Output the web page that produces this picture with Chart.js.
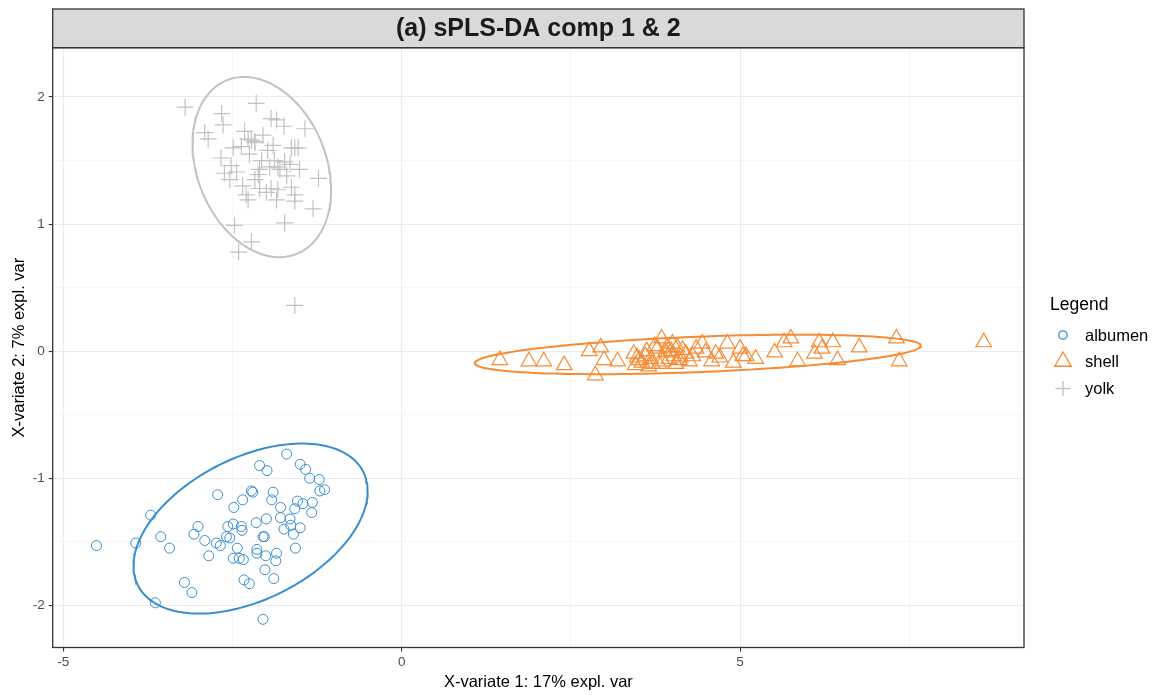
<!DOCTYPE html>
<html>
<head>
<meta charset="utf-8">
<script src="https://cdn.jsdelivr.net/npm/chart.js@4.4.0/dist/chart.umd.min.js"></script>
<style>
  html, body { margin: 0; padding: 0; background: #ffffff; }
  #wrap { width: 1159px; height: 695px; position: relative; }
</style>
</head>
<body>
<div id="wrap"><canvas id="plot" width="1159" height="695"></canvas></div>
<script>
// ---- sample scores on the first two sPLS-DA components ----
const groupNames = ['albumen', 'shell', 'yolk'];

const albumenX = [-4.51,-3.93,-3.71,-3.56,-3.43,-3.64,-3.21,-3.10,-3.01,-3.07,-2.91,-2.85,-2.74,-2.72,-2.68,-2.59,-2.57,-2.54,-2.49,-2.48,-2.43,-2.49,-2.37,-2.36,-2.35,-2.34,-2.40,-2.33,-2.25,-2.22,-2.20,-2.15,-2.14,-2.14,-2.10,-2.05,-2.03,-2.01,-2.02,-2.05,-1.99,-2.00,-1.90,-1.92,-1.89,-1.85,-1.86,-1.79,-1.79,-1.74,-1.70,-1.65,-1.64,-1.60,-1.57,-1.58,-1.54,-1.50,-1.50,-1.46,-1.42,-1.36,-1.32,-1.33,-1.22,-1.21,-1.14];
const albumenY = [-1.53,-1.51,-1.29,-1.46,-1.55,-1.98,-1.82,-1.90,-1.38,-1.44,-1.49,-1.61,-1.51,-1.13,-1.53,-1.46,-1.38,-1.47,-1.36,-1.23,-1.55,-1.63,-1.38,-1.41,-1.17,-1.64,-1.63,-1.80,-1.83,-1.10,-1.11,-1.35,-1.56,-1.59,-0.90,-1.46,-1.46,-1.61,-1.72,-2.11,-0.94,-1.32,-1.11,-1.17,-1.79,-1.59,-1.65,-1.23,-1.31,-1.40,-0.81,-1.32,-1.37,-1.44,-1.55,-1.24,-1.18,-1.39,-0.89,-1.20,-0.93,-1.00,-1.19,-1.27,-1.01,-1.10,-1.09];

const shellX = [1.45,1.88,2.10,2.40,2.77,2.94,2.99,2.86,3.19,3.43,3.51,3.45,3.60,3.70,3.84,3.78,3.90,4.00,3.95,4.07,4.10,4.20,4.30,4.44,4.49,4.64,4.81,5.04,3.80,3.65,5.23,5.51,5.65,5.75,5.85,6.10,6.17,6.21,6.37,6.44,6.76,7.31,7.35,8.60,5.09,3.55,3.62,3.68,3.74,3.86,3.92,4.02,4.05,4.15,4.25,4.35,3.48,4.12,3.98,4.58,4.70,4.90,5.00];
const shellY = [-0.07,-0.08,-0.08,-0.11,0.00,0.03,-0.07,-0.19,-0.08,-0.02,-0.07,-0.11,-0.04,-0.10,0.10,0.02,-0.01,0.06,-0.06,0.03,-0.07,-0.02,-0.04,0.06,-0.01,-0.02,0.06,-0.04,-0.10,-0.12,-0.06,-0.01,0.07,0.10,-0.08,-0.02,0.07,0.02,0.07,-0.07,0.03,0.10,-0.08,0.07,-0.04,-0.09,0.00,-0.06,0.04,-0.08,0.03,-0.04,-0.10,0.01,-0.08,0.02,-0.05,-0.05,0.00,-0.08,-0.05,-0.09,0.02];

const yolkX = [-3.20,-2.66,-2.64,-2.91,-2.86,-2.67,-2.52,-2.44,-2.49,-2.32,-2.27,-2.22,-2.17,-2.15,-2.17,-2.37,-1.93,-1.85,-1.74,-1.43,-1.98,-1.88,-1.83,-1.80,-2.10,-2.12,-2.17,-1.63,-1.58,-1.53,-1.51,-1.23,-1.63,-1.83,-1.93,-1.58,-1.58,-1.31,-1.85,-2.27,-2.30,-1.73,-2.47,-2.22,-2.41,-1.58,-2.54,-2.07,-2.00,-1.73,-2.62,-2.25,-2.05,-1.95,-1.70,-1.90,-2.35,-1.65,-2.10];
const yolkY = [1.92,1.87,1.78,1.72,1.67,1.52,1.46,1.41,1.60,1.73,1.67,1.66,1.65,1.95,1.64,1.61,1.83,1.82,1.77,1.75,1.58,1.50,1.45,1.43,1.43,1.39,1.35,1.60,1.60,1.60,1.43,1.36,1.29,1.27,1.28,1.23,1.18,1.12,1.19,1.19,1.23,1.01,0.99,0.86,0.78,0.36,1.35,1.50,1.25,1.49,1.40,1.55,1.70,1.45,1.38,1.62,1.30,1.47,1.28];

// ---- axis ticks ----
const xMajorTicks = [-5, 0, 5];
const xGridValues = [-5, -2.5, 0, 2.5, 5, 7.5];
const yMajorTicks = [-2, -1, 0, 1, 2];
const yGridValues = [-2, -1.5, -1, -0.5, 0, 0.5, 1, 1.5, 2];

// ---- texts ----
const panelTitle = '(a) sPLS-DA comp 1 & 2';
const xAxisTitle = 'X-variate 1: 17% expl. var';
const yAxisTitle = 'X-variate 2: 7% expl. var';
const legendTitle = 'Legend';

// ---- styling ----
const groupColors = { albumen: '#388ECC', shell: '#F68B33', yolk: '#C2C2C2' };
const groupShapes = { albumen: 'circle', shell: 'triangle', yolk: 'cross' };
const groupRadius = { albumen: 5, shell: 9, yolk: 8.5 };
const legendRadius = { albumen: 4.2, shell: 9.5, yolk: 7.5 };
const FONT = '"Liberation Sans", Arial, Helvetica, sans-serif';

const zip = (xs, ys) => xs.map((x, i) => ({ x: x, y: ys[i] }));

// 95% confidence ellipse computed from the group's own scores
function confidenceEllipse(xs, ys, steps) {
  const n = xs.length;
  const mx = xs.reduce((a, b) => a + b, 0) / n;
  const my = ys.reduce((a, b) => a + b, 0) / n;
  let sxx = 0, syy = 0, sxy = 0;
  for (let i = 0; i < n; i++) {
    const dx = xs[i] - mx, dy = ys[i] - my;
    sxx += dx * dx; syy += dy * dy; sxy += dx * dy;
  }
  sxx /= (n - 1); syy /= (n - 1); sxy /= (n - 1);
  const t = Math.sqrt(5.991464547107979); // sqrt(qchisq(0.95, 2))
  const l11 = Math.sqrt(sxx);
  const l21 = sxy / l11;
  const l22 = Math.sqrt(Math.max(syy - l21 * l21, 0));
  const out = [];
  for (let k = 0; k <= steps; k++) {
    const a = 2 * Math.PI * k / steps;
    out.push({ x: mx + t * l11 * Math.cos(a), y: my + t * (l21 * Math.cos(a) + l22 * Math.sin(a)) });
  }
  return out;
}

const groupData = {
  albumen: zip(albumenX, albumenY),
  shell: zip(shellX, shellY),
  yolk: zip(yolkX, yolkY)
};
const groupCoords = {
  albumen: [albumenX, albumenY],
  shell: [shellX, shellY],
  yolk: [yolkX, yolkY]
};

const datasets = [];
groupNames.forEach(g => {
  datasets.push({
    label: g,
    data: groupData[g],
    pointStyle: groupShapes[g],
    pointRadius: groupRadius[g],
    pointHoverRadius: groupRadius[g],
    pointBorderColor: groupColors[g],
    pointBackgroundColor: 'rgba(0,0,0,0)',
    pointBorderWidth: g === 'albumen' ? 1 : 1.2,
    showLine: false,
    order: 2
  });
});
groupNames.forEach(g => {
  datasets.push({
    label: g + ' ellipse',
    data: confidenceEllipse(groupCoords[g][0], groupCoords[g][1], 160),
    showLine: true,
    borderColor: groupColors[g],
    borderWidth: 2,
    pointRadius: 0,
    pointHoverRadius: 0,
    fill: false,
    tension: 0,
    order: 1
  });
});

const PANEL = { left: 52.7, right: 1024, top: 47.7, bottom: 647.5 };

const decor = {
  id: 'decor',
  afterDraw(chart) {
    const ctx = chart.ctx;
    const area = chart.chartArea;
    ctx.save();
    // panel border
    ctx.strokeStyle = '#333333';
    ctx.lineWidth = 1.3;
    ctx.strokeRect(area.left, area.top, area.right - area.left, area.bottom - area.top);
    // facet strip
    const stripTop = 9;
    ctx.fillStyle = '#D9D9D9';
    ctx.fillRect(area.left, stripTop, area.right - area.left, area.top - stripTop);
    ctx.strokeRect(area.left, stripTop, area.right - area.left, area.top - stripTop);
    ctx.fillStyle = '#1A1A1A';
    ctx.font = 'bold 25px ' + FONT;
    ctx.textAlign = 'center';
    ctx.textBaseline = 'middle';
    ctx.fillText(panelTitle, (area.left + area.right) / 2, (stripTop + area.top) / 2 + 1);
    // axis titles
    ctx.font = '16.5px ' + FONT;
    ctx.fillStyle = '#000000';
    ctx.fillText(xAxisTitle, (area.left + area.right) / 2, 682);
    ctx.save();
    ctx.translate(19, (area.top + area.bottom) / 2);
    ctx.rotate(-Math.PI / 2);
    ctx.fillText(yAxisTitle, 0, 0);
    ctx.restore();
    // legend
    ctx.textAlign = 'left';
    ctx.font = '17.5px ' + FONT;
    ctx.fillText(legendTitle, 1050, 305);
    const rows = [335, 361.5, 388.5];
    ctx.font = '16.5px ' + FONT;
    groupNames.forEach((g, i) => {
      ctx.strokeStyle = groupColors[g];
      ctx.fillStyle = 'rgba(0,0,0,0)';
      Chart.helpers.drawPoint(ctx, {
        pointStyle: groupShapes[g],
        radius: legendRadius[g],
        borderWidth: 1.2,
        rotation: 0
      }, 1063, rows[i]);
      ctx.fillStyle = '#000000';
      ctx.fillText(g, 1085, rows[i] + 1);
    });
    ctx.restore();
  }
};

const isMajor = (list, v) => list.some(m => Math.abs(m - v) < 1e-9);

new Chart(document.getElementById('plot'), {
  type: 'scatter',
  data: { datasets: datasets },
  plugins: [decor],
  options: {
    responsive: false,
    animation: false,
    devicePixelRatio: 1,
    layout: { padding: { left: 0, top: PANEL.top, right: 1159 - PANEL.right, bottom: 0 } },
    plugins: { legend: { display: false }, tooltip: { enabled: false } },
    scales: {
      x: {
        type: 'linear',
        min: -5.157,
        max: 9.195,
        afterFit(scale) { scale.height = 695 - PANEL.bottom; },
        afterBuildTicks(scale) { scale.ticks = xGridValues.map(v => ({ value: v })); },
        border: { display: false },
        grid: {
          color: c => isMajor(xMajorTicks, c.tick.value) ? '#EBEBEB' : '#F2F2F2',
          lineWidth: c => isMajor(xMajorTicks, c.tick.value) ? 1.1 : 0.6,
          tickColor: c => isMajor(xMajorTicks, c.tick.value) ? '#333333' : 'rgba(0,0,0,0)',
          tickWidth: 1.1,
          tickLength: 4
        },
        ticks: {
          autoSkip: false,
          maxRotation: 0,
          padding: 3,
          color: '#4D4D4D',
          font: { family: FONT, size: 13.5 },
          callback: v => isMajor(xMajorTicks, v) ? String(v) : ''
        }
      },
      y: {
        type: 'linear',
        min: -2.332,
        max: 2.388,
        afterFit(scale) { scale.width = PANEL.left; },
        afterBuildTicks(scale) { scale.ticks = yGridValues.map(v => ({ value: v })); },
        border: { display: false },
        grid: {
          color: c => isMajor(yMajorTicks, c.tick.value) ? '#EBEBEB' : '#F2F2F2',
          lineWidth: c => isMajor(yMajorTicks, c.tick.value) ? 1.1 : 0.6,
          tickColor: c => isMajor(yMajorTicks, c.tick.value) ? '#333333' : 'rgba(0,0,0,0)',
          tickWidth: 1.1,
          tickLength: 4
        },
        ticks: {
          autoSkip: false,
          padding: 4,
          color: '#4D4D4D',
          font: { family: FONT, size: 13.5 },
          callback: v => isMajor(yMajorTicks, v) ? String(v) : ''
        }
      }
    }
  }
});
</script>
</body>
</html>
